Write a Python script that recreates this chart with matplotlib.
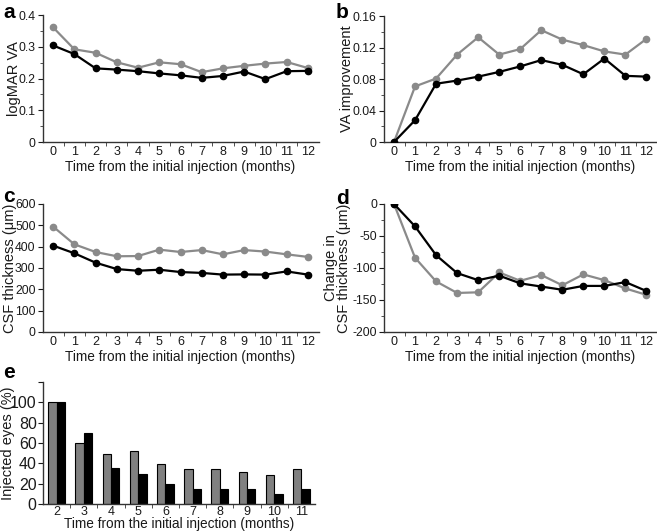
import numpy as np
import matplotlib
matplotlib.use('Agg')
import matplotlib.pyplot as plt
from matplotlib.ticker import MultipleLocator

plt.rcParams['font.family'] = ['Liberation Sans', 'DejaVu Sans']
plt.rcParams['axes.unicode_minus'] = False

months = list(range(13))
GRAY = '#8a8a8a'

# a: logMAR VA
va_gray = [0.361, 0.292, 0.281, 0.251, 0.234, 0.251, 0.245, 0.220, 0.232, 0.240, 0.247, 0.252, 0.233]
va_black = [0.304, 0.277, 0.232, 0.228, 0.223, 0.216, 0.210, 0.202, 0.208, 0.222, 0.198, 0.223, 0.224]
# b: VA improvement
imp_gray = [0.0, 0.0706, 0.0806, 0.111, 0.133, 0.111, 0.118, 0.142, 0.130, 0.123, 0.115, 0.111, 0.131]
imp_black = [0.0, 0.0277, 0.074, 0.078, 0.083, 0.089, 0.096, 0.104, 0.098, 0.086, 0.106, 0.084, 0.083]
# c: CSF thickness
csf_gray = [494, 411, 375, 355, 356, 386, 375, 384, 364, 384, 377, 364, 352]
csf_black = [405, 369, 325, 295, 287, 292, 281, 277, 269, 270, 269, 284, 269]
# d: change in CSF thickness
dcsf_gray = [0, -84, -121, -139, -138, -107, -120, -111, -127, -110, -119, -132, -142]
dcsf_black = [0, -35, -80, -108, -119, -112, -124, -129, -134, -128, -128, -122, -136]
d_ticks = [-200, -150, -100, -50, 0]
# e: injected eyes
inj_months = [2, 3, 4, 5, 6, 7, 8, 9, 10, 11]
inj_gray = [100, 60, 49, 52, 39, 34, 34, 31, 29, 34]
inj_black = [100, 70, 35, 30, 20, 15, 15, 15, 10, 15]

W, H = 657, 532
fig = plt.figure(figsize=(W / 100, H / 100), dpi=100)

def box(x0, x1, ytop, ybot):
    return [x0 / W, 1 - ybot / H, (x1 - x0) / W, (ybot - ytop) / H]

XLAB = 'Time from the initial injection (months)'
TXT = '#1a1a1a'

def style(ax, xt):
    for s in ['top', 'right']:
        ax.spines[s].set_visible(False)
    for s in ['left', 'bottom']:
        ax.spines[s].set_color('#333333')
        ax.spines[s].set_linewidth(1)
    ax.set_xticks(xt)
    ax.set_xticks([v + 0.5 for v in xt[:-1]], minor=True)
    ax.tick_params(axis='x', which='major', length=0, labelsize=9, pad=3, colors=TXT)
    ax.tick_params(axis='x', which='minor', length=3, direction='out', color='#333333')
    ax.tick_params(axis='y', which='major', length=3.5, labelsize=8.8, pad=1.5, colors=TXT)
    ax.tick_params(axis='y', which='minor', length=2, color='#333333')
    ax.set_xlabel(XLAB, fontsize=9.8, labelpad=1, color=TXT)

def ylab(ax, text, x_right, x0, x1, **kw):
    ax.set_ylabel(text, fontsize=10.5, color=TXT, **kw)
    ax.yaxis.set_label_coords((x_right - x0) / (x1 - x0), 0.5)

def lines(ax, g, b):
    ax.plot(months, g, color=GRAY, lw=1.6, marker='o', ms=4.5, zorder=2)
    ax.plot(months, b, color='black', lw=1.6, marker='o', ms=4.5, zorder=3)
    ax.set_xlim(-0.5, 12.5)

# panel a
ax = fig.add_axes(box(42.5, 318.5, 15, 142))
lines(ax, va_gray, va_black)
ax.set_ylim(0, 0.4)
ax.set_yticks([0, 0.1, 0.2, 0.3, 0.4])
ax.set_yticklabels(['0', '0.1', '0.2', '0.3', '0.4'])
ax.yaxis.set_minor_locator(MultipleLocator(0.05))
style(ax, months)
ylab(ax, 'logMAR VA', 21, 42.5, 318.5)
fig.text(3 / W, 1 - 12 / H, 'a', fontsize=15, fontweight='bold', va='center')

# panel b
ax = fig.add_axes(box(383.5, 657, 16, 142))
lines(ax, imp_gray, imp_black)
ax.set_ylim(0, 0.16)
ax.set_yticks([0, 0.04, 0.08, 0.12, 0.16])
ax.set_yticklabels(['0', '0.04', '0.08', '0.12', '0.16'])
ax.yaxis.set_minor_locator(MultipleLocator(0.02))
style(ax, months)
ylab(ax, 'VA improvement', 354, 383.5, 657)
fig.text(336 / W, 1 - 12 / H, 'b', fontsize=15, fontweight='bold', va='center')

# panel c
ax = fig.add_axes(box(42.5, 318.5, 204, 332))
lines(ax, csf_gray, csf_black)
ax.set_ylim(0, 600)
ax.set_yticks(range(0, 601, 100))
style(ax, months)
ylab(ax, 'CSF thickness (μm)', 17, 42.5, 318.5)
fig.text(3 / W, 1 - 196 / H, 'c', fontsize=15, fontweight='bold', va='center')

# panel d
ax = fig.add_axes(box(383.5, 657, 204, 332))
lines(ax, dcsf_gray, dcsf_black)
ax.set_ylim(-200, 0)
ax.set_yticks(d_ticks)
ax.set_yticklabels([str(v) for v in d_ticks])
ax.yaxis.set_minor_locator(MultipleLocator(25))
style(ax, months)
ax.tick_params(axis='y', which='major', pad=1)
ylab(ax, 'Change in\nCSF thickness (μm)', 351, 383.5, 657, linespacing=0.9)
fig.text(336 / W, 1 - 198 / H, 'd', fontsize=15, fontweight='bold', va='center')

# panel e
ax = fig.add_axes(box(43, 315, 382, 504))
x = np.array(inj_months)
bw = 0.31
ax.bar(x - bw / 2, inj_gray, bw, color='#808080', edgecolor='black', lw=0.8)
ax.bar(x + bw / 2, inj_black, bw, color='black', edgecolor='black', lw=0.8)
ax.set_xlim(1.5, 11.5)
ax.set_ylim(0, 120)
ax.set_yticks(range(0, 121, 20))
ax.set_yticklabels(['0', '20', '40', '60', '80', '100', ''])
style(ax, inj_months)
ax.tick_params(axis='y', which='major', labelsize=11.5, pad=1)
ax.tick_params(axis='x', which='major', pad=1.5)
ax.xaxis.labelpad = -0.5
ylab(ax, 'Injected eyes (%)', 15, 43, 315)
fig.text(3 / W, 1 - 372 / H, 'e', fontsize=15, fontweight='bold', va='center')

fig.savefig('out.png', dpi=100)
